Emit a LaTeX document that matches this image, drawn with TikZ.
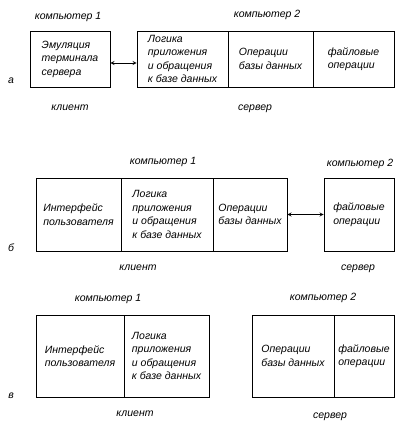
\documentclass[tikz,border=0pt]{standalone}
\usepackage{fontspec}
\setmainfont{Liberation Sans}
\usetikzlibrary{arrows}

\begin{document}
\begin{tikzpicture}[x=1pt, y=-1pt, font=\itshape\fontsize{10.5}{13.5}\selectfont,
  blk/.style={draw, thick, align=left, inner sep=1pt},
  link/.style={<->, >=stealth, thick}]
\useasboundingbox (0,0) rectangle (417,436);
% row labels
\foreach \y/\name/\i in {81/а/1,248/б/2,396/в/3} \node (row\i) at (11,\y) {\name};
% a
\node[blk, minimum width=80, minimum height=56] (emulA) at (70,59) {Эмуляция\\терминала\\сервера};
\node[blk, minimum width=91, minimum height=56] (logicA) at (182.5,59) {Логика\\приложения\\и обращения\\к базе данных};
\node[blk, minimum width=85, minimum height=56] (opsA) at (270.5,59) {Операции\\базы данных};
\node[blk, minimum width=81, minimum height=56] (fileA) at (353.5,59) {файловые\\операции};
\draw[link] ([yshift=-4]emulA.east) -- ([yshift=-4]logicA.west);
\node (compA1) at (68,17) {компьютер 1};
\node (compA2) at (267,15) {компьютер 2};
\node (cliA) at (70,108) {клиент};
\node (srvA) at (255,109) {сервер};
% b
\node[blk, minimum width=85, minimum height=73] (ifaceB) at (78.5,214.5) {Интерфейс\\пользователя};
\node[blk, minimum width=92, minimum height=73] (logicB) at (167,214.5) {Логика\\приложения\\и обращения\\к базе данных};
\node[blk, minimum width=74, minimum height=73] (opsB) at (250,214.5) {Операции\\базы данных};
\node[blk, minimum width=70, minimum height=73] (fileB) at (359,214.5) {файловые\\операции};
\draw[link] (opsB.east) -- (fileB.west);
\node (compB1) at (163,162) {компьютер 1};
\node (compB2) at (360,164) {компьютер 2};
\node (cliB) at (138,268) {клиент};
\node (srvB) at (358,269) {сервер};
% c
\node[blk, minimum width=88, minimum height=82] (ifaceC) at (80,356) {Интерфейс\\пользователя};
\node[blk, minimum width=85, minimum height=82] (logicC) at (166.5,356) {Логика\\приложения\\и обращения\\к базе данных};
\node[blk, minimum width=82, minimum height=82] (opsC) at (293,356) {Операции\\базы данных};
\node[blk, minimum width=60, minimum height=82] (fileC) at (364,356) {файловые\\операции};
\node (compC1) at (108,299) {компьютер 1};
\node (compC2) at (323,298) {компьютер 2};
\node (cliC) at (135,414) {клиент};
\node (srvC) at (330,417) {сервер};
\end{tikzpicture}
\end{document}
